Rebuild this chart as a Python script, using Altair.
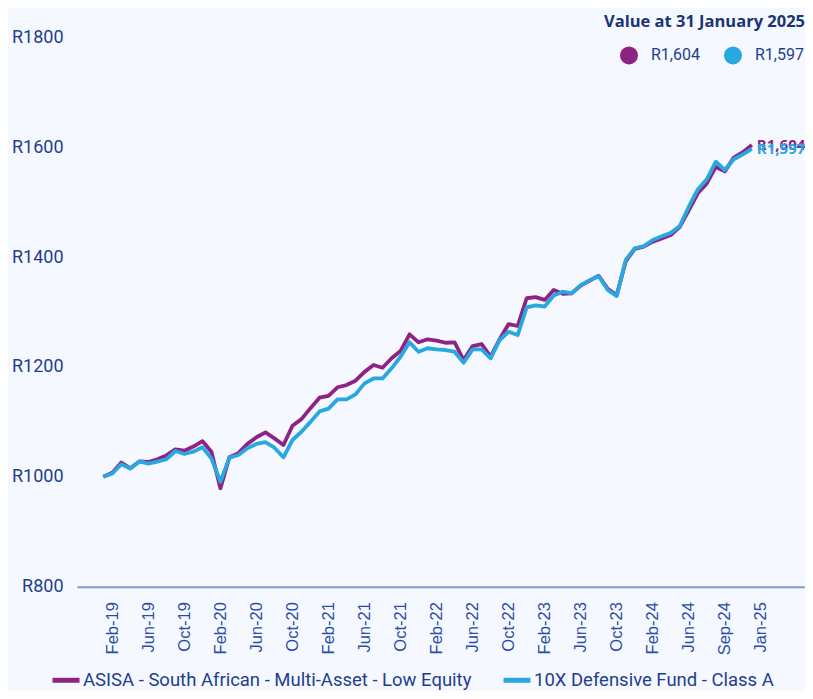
import altair as alt
import pandas as pd

SERIES = ["ASISA - South African - Multi-Asset - Low Equity", "10X Defensive Fund - Class A"]
COLORS = ["#8E2384", "#29A8E0"]
END_LABELS = ["R1,604", "R1,597"]
TITLE = "Value at 31 January 2025"

ASISA = [1000, 1007.5, 1026, 1015.5, 1028, 1027, 1032, 1039, 1050, 1047.5,
         1055, 1065, 1045.7, 979, 1035.5, 1043, 1060, 1072, 1081, 1070,
         1058, 1093, 1105, 1125, 1144, 1147.5, 1163, 1167, 1175, 1191,
         1203.5, 1198.6, 1215.7, 1229, 1259.4, 1244.8, 1250.3, 1247.8, 1244, 1244.8,
         1212.6, 1238, 1241.7, 1218.6, 1250.3, 1278, 1274.5, 1325, 1327, 1322,
         1340, 1333, 1334, 1348, 1357, 1366, 1342, 1331, 1392, 1415,
         1419, 1428, 1434, 1440, 1455, 1485, 1516, 1534, 1564, 1556,
         1581, 1591, 1604]
TENX = [1000, 1006, 1023, 1015, 1028, 1024, 1027.5, 1032, 1047, 1041.5,
        1045.7, 1053.7, 1033.7, 991, 1035, 1039.7, 1052, 1060, 1063, 1053,
        1035.5, 1067, 1082, 1100, 1119, 1124, 1141, 1141, 1150, 1170,
        1179, 1179, 1197.5, 1218.6, 1244.8, 1227.7, 1234, 1232, 1230.8, 1227.7,
        1207.7, 1232, 1232, 1215.7, 1249, 1264, 1258, 1308.5, 1312, 1310,
        1330, 1337, 1334, 1349, 1358, 1365.5, 1340, 1329, 1394.6, 1416,
        1420, 1431, 1438, 1444, 1456.5, 1491.6, 1523, 1541.5, 1573.5, 1558.5,
        1578, 1587, 1597]
TICK_LABELS = ["Feb-19", "Jun-19", "Oct-19", "Feb-20", "Jun-20", "Oct-20", "Feb-21",
               "Jun-21", "Oct-21", "Feb-22", "Jun-22", "Oct-22", "Feb-23", "Jun-23",
               "Oct-23", "Feb-24", "Jun-24", "Sep-24", "Jan-25"]
TICK_POS = [1 + 4 * k for k in range(len(TICK_LABELS))]
Y_TICKS = [800, 1000, 1200, 1400, 1600, 1800]

NAVY = "#1F3E8E"
BG = "#F5F8FE"

rows = []
for s, vals in zip(SERIES, [ASISA, TENX]):
    for i, v in enumerate(vals):
        rows.append({"idx": i, "series": s, "value": v})
df = pd.DataFrame(rows)

end_df = pd.DataFrame({
    "idx": [len(ASISA) - 1, len(TENX) - 1],
    "value": [ASISA[-1], TENX[-1]],
    "label": END_LABELS,
})

label_arr = "[" + ",".join("'" + t + "'" for t in TICK_LABELS) + "]"

x = alt.X("idx:Q",
          scale=alt.Scale(domain=[-2.92, 77.9], nice=False, zero=False),
          axis=alt.Axis(values=TICK_POS,
                        labelExpr=label_arr + "[round((datum.value - 1) / 4)]",
                        labelAngle=-90, labelAlign="right", labelBaseline="middle",
                        labelFont="Liberation Sans", labelFontSize=16.5,
                        labelColor="#2A4DA6", labelPadding=15, ticks=False,
                        grid=False, domainColor="#7F9BCF", domainWidth=2,
                        title=None, labelOverlap=False))
y = alt.Y("value:Q",
          scale=alt.Scale(domain=[800, 1800], nice=False, zero=False),
          axis=alt.Axis(values=Y_TICKS, labelExpr="'R' + datum.value",
                        ticks=False, domain=False, grid=False,
                        labelFont="Roboto", labelFontSize=18, labelColor=NAVY,
                        labelPadding=14, title=None))

color = alt.Color("series:N",
                  scale=alt.Scale(domain=SERIES, range=COLORS),
                  legend=alt.Legend(orient="none", legendX=-27, legendY=627,
                                    direction="horizontal", title=None,
                                    symbolType="stroke", symbolSize=729,
                                    symbolStrokeWidth=5, labelFont="Roboto",
                                    labelFontSize=18.5, labelColor=NAVY,
                                    labelLimit=0, columnPadding=21,
                                    labelOffset=1))

base = alt.Chart(df)
line_a = base.transform_filter(alt.datum.series == SERIES[0]).mark_line(
    strokeWidth=3.8, strokeJoin="round").encode(x=x, y=y, color=color)
line_b = base.transform_filter(alt.datum.series == SERIES[1]).mark_line(
    strokeWidth=3.8, strokeJoin="round").encode(x=x, y=y, color=color)

labels = alt.Chart(end_df).mark_text(
    align="left", baseline="middle", dx=5, font="Open Sans",
    fontWeight="bold", fontSize=15).encode(
    x="idx:Q", y="value:Q", text="label:N",
    fill=alt.Fill("label:N",
                  scale=alt.Scale(domain=END_LABELS, range=COLORS),
                  legend=alt.Legend(orient="none", legendX=543, legendY=9.1,
                                    direction="horizontal", title=None,
                                    symbolType="circle", symbolSize=324,
                                    symbolStrokeWidth=0, labelFont="Roboto",
                                    labelFontSize=16, labelColor=NAVY,
                                    columnPadding=24, labelOffset=13)))

chart = alt.layer(line_a, line_b, labels).properties(
    width=728, height=549.4,
    padding={"left": 69, "top": 29.3, "right": 0, "bottom": 104},
    autosize=alt.AutoSizeParams(type="none"),
    title=alt.TitleParams(TITLE, anchor="end", frame="group", font="Open Sans",
                          fontWeight="bold", fontSize=16.5, color="#1A3574",
                          offset=-2),
).configure(background=BG).configure_view(stroke=None)

chart.save("out.html", embed_options={"renderer": "svg", "actions": False})
